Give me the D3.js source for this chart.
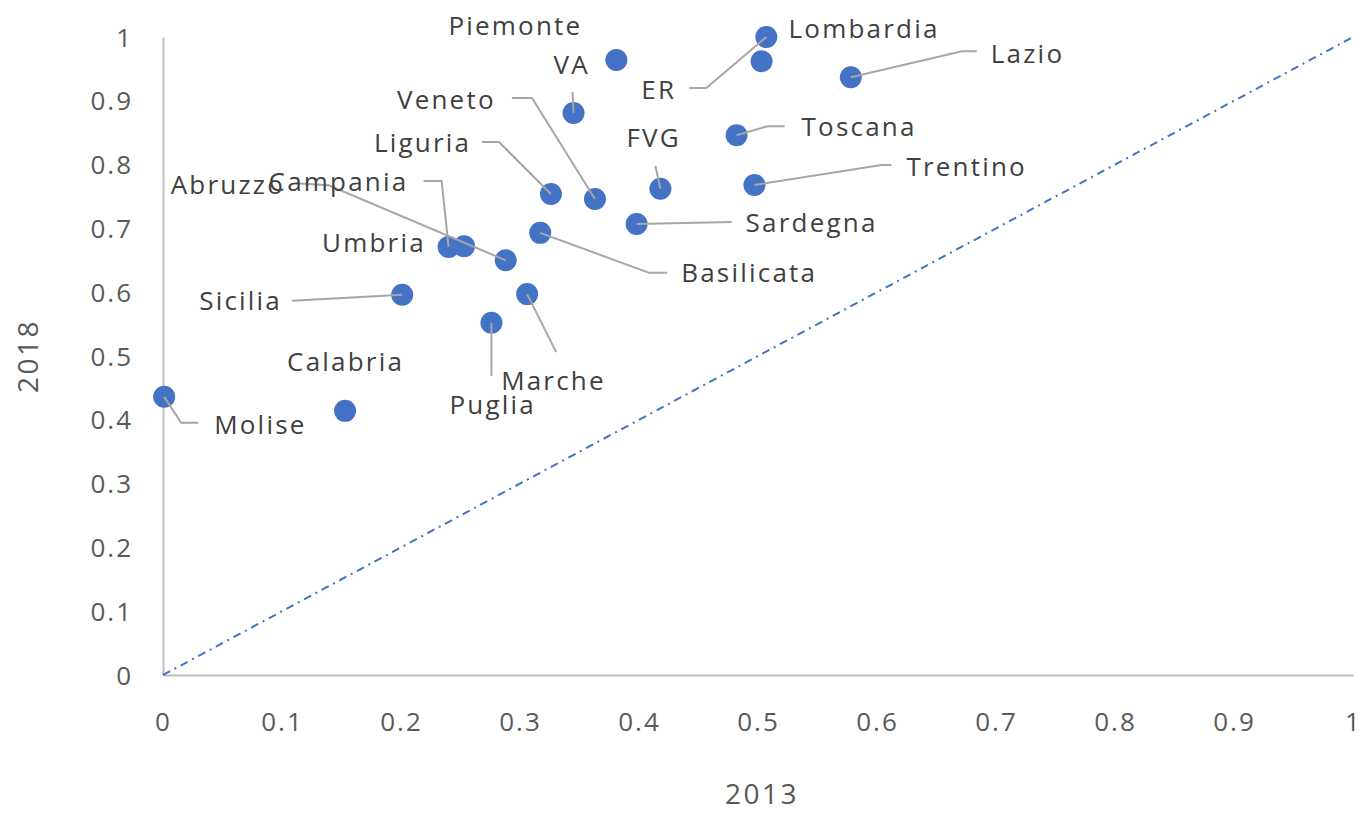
<!DOCTYPE html>
<meta charset="utf-8">
<script src="https://d3js.org/d3.v7.min.js"></script>
<style type="text/css">
body { margin: 0; background: #fff; }
svg { font-family: "Open Sans", sans-serif; }
.axis path { stroke: #bfbfbf; stroke-width: 2px; }
.axis line { display: none; }
.axis text { font-size: 26px; fill: #595959; letter-spacing: 2px; font-family: "Open Sans", sans-serif; }
.axisTitle { font-size: 28px; fill: #595959; letter-spacing: 2.5px; }
.regionLabel { font-size: 26px; fill: #404040; letter-spacing: 2.2px; }
.leader { fill: none; stroke: #a6a6a6; stroke-width: 2px; }
</style>
<body></body>
<script>

// data
var regions = ["Lombardia", "ER", "Lazio", "Piemonte", "VA", "Toscana", "FVG", "Trentino",
  "Liguria", "Veneto", "Sardegna", "Basilicata", "Campania", "Umbria", "Abruzzo",
  "Sicilia", "Marche", "Puglia", "Calabria", "Molise"];
var x2013 = [0.503, 0.507, 0.578, 0.381, 0.345, 0.482, 0.418, 0.497,
  0.326, 0.363, 0.398, 0.317, 0.240, 0.253, 0.288,
  0.201, 0.306, 0.276, 0.153, 0.001];
var y2018 = [0.962, 1.000, 0.937, 0.964, 0.881, 0.846, 0.762, 0.768,
  0.754, 0.746, 0.707, 0.693, 0.671, 0.672, 0.650,
  0.596, 0.597, 0.552, 0.414, 0.436];
var tickValues = [0, 0.1, 0.2, 0.3, 0.4, 0.5, 0.6, 0.7, 0.8, 0.9, 1];
var tickLabels = ["0", "0.1", "0.2", "0.3", "0.4", "0.5", "0.6", "0.7", "0.8", "0.9", "1"];

// label placement (pixel offsets from the point), leader line points likewise
var labelLayout = [
  {dx: 27, dy: -32, leader: null},                          // Lombardia
  {dx: -125, dy: 53, leader: [[-77, 51], [-60, 51], [0, 0]]}, // ER
  {dx: 140, dy: -23, leader: [[126, -26], [111, -26], [0, 0]]}, // Lazio
  {dx: -168, dy: -34, leader: null},                        // Piemonte
  {dx: -20, dy: -48, leader: [[-1, -21], [0, 0]]},          // VA
  {dx: 65, dy: -8, leader: [[48, -9], [31, -9], [0, 0]]},   // Toscana
  {dx: -34, dy: -51, leader: [[-5, -23], [0, 0]]},          // FVG
  {dx: 152, dy: -18, leader: [[137, -20], [127, -20], [0, 0]]}, // Trentino
  {dx: -177, dy: -51, leader: [[-69, -52], [-52, -52], [0, 0]]}, // Liguria
  {dx: -198, dy: -99, leader: [[-83, -101], [-63, -101], [0, 0]]}, // Veneto
  {dx: 109, dy: -1, leader: [[95, -2], [0, 0]]},            // Sardegna
  {dx: 141, dy: 40, leader: [[127, 40], [109, 40], [0, 0]]}, // Basilicata
  {dx: -180, dy: -65, leader: [[-25, -66], [-7, -66], [0, 0]]}, // Campania
  {dx: -142, dy: -3, leader: null},                         // Umbria
  {dx: -335, dy: -75, leader: [[-210, -77], [-177, -75], [0, 0]]}, // Abruzzo
  {dx: -203, dy: 6, leader: [[-110, 6], [0, 0]]},           // Sicilia
  {dx: -26, dy: 87, leader: [[29, 58], [0, 0]]},            // Marche
  {dx: -42, dy: 82, leader: [[0, 53], [0, 0]]},             // Puglia
  {dx: -58, dy: -49, leader: null},                         // Calabria
  {dx: 50, dy: 28, leader: [[34, 26], [17, 26], [0, 0]]}    // Molise
];

var data = regions.map(function(r, i) {
  return {name: r, x: x2013[i], y: y2018[i], layout: labelLayout[i]};
});

var margin = {top: 37, right: 9, bottom: 140, left: 163};
var width = 1362 - margin.left - margin.right;
var height = 815 - margin.top - margin.bottom;
var radius = 11;

var svg = d3.select("body").append("svg")
    .attr("width", width + margin.left + margin.right)
    .attr("height", height + margin.top + margin.bottom)
  .append("g")
    .attr("transform", "translate(" + margin.left + "," + margin.top + ")");

// scales
var xScale = d3.scaleLinear().domain([0, 1]).range([0, width]);
var yScale = d3.scaleLinear().domain([0, 1]).range([height, 0]);

// axes
var xAxis = d3.axisBottom(xScale)
  .tickValues(tickValues)
  .tickSize(0)
  .tickSizeOuter(0)
  .tickFormat(function(d, i) { return tickLabels[i]; });

var yAxis = d3.axisLeft(yScale)
  .tickValues(tickValues)
  .tickSize(0)
  .tickSizeOuter(0)
  .tickFormat(function(d, i) { return tickLabels[i]; });

svg.append('g')
  .attr('class', 'x axis')
  .attr('transform', 'translate(0,' + height + ')')
  .call(xAxis)
  .selectAll('text')
    .attr('y', 47)
    .attr('dy', '0.35em');

svg.append('g')
  .attr('class', 'y axis')
  .call(yAxis)
  .selectAll('text')
    .attr('x', -30)
    .attr('dy', '0.35em');

d3.selectAll('.axis').attr('font-size', null).attr('font-family', null);

// axis titles
svg.append('text')
  .attr('class', 'axisTitle')
  .attr('x', width / 2 + 4)
  .attr('y', height + 119)
  .attr('dy', '0.35em')
  .attr('text-anchor', 'middle')
  .text('2013');

svg.append('text')
  .attr('class', 'axisTitle')
  .attr('transform', 'translate(' + (-135) + ',' + (height / 2) + ') rotate(-90)')
  .attr('dy', '0.35em')
  .attr('text-anchor', 'middle')
  .text('2018');

// 45 degree reference line
svg.append('line')
  .attr('x1', xScale(0))
  .attr('y1', yScale(0))
  .attr('x2', xScale(1))
  .attr('y2', yScale(1))
  .style('stroke', '#4472c4')
  .style('stroke-width', 2)
  .style('stroke-dasharray', '8,5,2,5');

// points
svg.selectAll('.regionPoint')
  .data(data).enter().append('circle')
  .attr('class', 'regionPoint')
  .attr('cx', function(d) { return xScale(d.x); })
  .attr('cy', function(d) { return yScale(d.y); })
  .attr('r', radius)
  .style('fill', '#4472c4');

// leader lines
var line = d3.line();
svg.selectAll('.leader')
  .data(data.filter(function(d) { return d.layout.leader; })).enter().append('path')
  .attr('class', 'leader')
  .attr('d', function(d) {
    var px = xScale(d.x), py = yScale(d.y);
    return line(d.layout.leader.map(function(p) { return [px + p[0], py + p[1]]; }));
  });

// labels
svg.selectAll('.regionLabel')
  .data(data).enter().append('text')
  .attr('class', 'regionLabel')
  .attr('x', function(d) { return xScale(d.x) + d.layout.dx; })
  .attr('y', function(d) { return yScale(d.y) + d.layout.dy; })
  .attr('dy', '0.35em')
  .text(function(d) { return d.name; });

</script>
